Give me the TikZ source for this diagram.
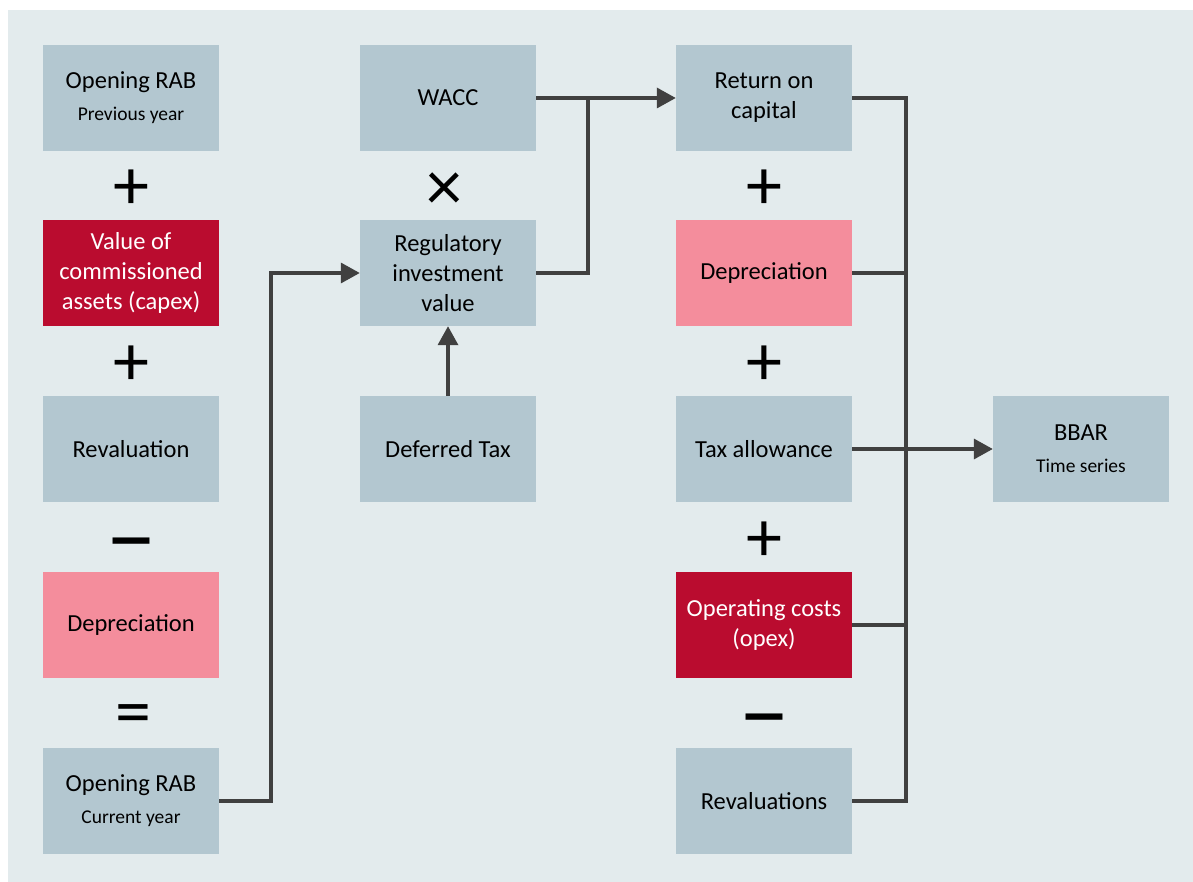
\documentclass[tikz,border=0pt]{standalone}
\usepackage{fontspec}
\setmainfont{Carlito}
\usetikzlibrary{arrows.meta}
\definecolor{bgc}{HTML}{E3EBED}
\definecolor{boxc}{HTML}{B3C7D0}
\definecolor{darkred}{HTML}{BA0C2F}
\definecolor{pinkc}{HTML}{F48D9C}
\definecolor{linec}{HTML}{404040}
\newcommand{\subtxt}[1]{{\fontsize{19.5}{22}\selectfont #1}}
\begin{document}
\begin{tikzpicture}[x=1pt,y=-1pt,
  box/.style={minimum width=176pt, minimum height=106pt, inner sep=0pt, align=center,
    fill=boxc, text=black, font=\fontsize{24.5}{30}\selectfont},
  redbox/.style={box, fill=darkred, text=white},
  pinkbox/.style={box, fill=pinkc, text=black},
  op/.style={inner sep=0pt, font=\fontsize{72}{72}\selectfont},
  minusop/.style={inner sep=0pt, font=\fontsize{72}{72}\bfseries\selectfont, xscale=1.45, yshift=-12pt},
  conn/.style={draw=linec, line width=3.5pt},
  arr/.style={conn, -{Triangle[length=19pt,width=20pt]}}
]
\useasboundingbox (0,0) rectangle (1193,882);
\fill[bgc] (8,10) rectangle (1193,882);

% column 1
\node[box] (orabp) at (131,98) {Opening RAB\\[2pt]\subtxt{Previous year}};
\node[redbox] (capex) at (131,273) {Value of\\commissioned\\assets (capex)};
\node[box] (reval1) at (131,449) {Revaluation};
\node[pinkbox] (dep1) at (131,625) {Depreciation};
\node[box] (orabc) at (131,801) {Opening RAB\\[2pt]\subtxt{Current year}};
\node[op, yshift=-3.5pt] (p1) at (131,186) {+};
\node[op, yshift=-3.5pt] (p2) at (131,362) {+};
\node[minusop] (m1) at (131,538) {–};
\node[op, yshift=-6pt] (e1) at (133,714) {=};

% column 2
\node[box] (wacc) at (448,98) {WACC};
\node[box] (riv) at (448,273) {Regulatory\\investment\\value};
\node[box] (dtax) at (448,449) {Deferred Tax};
\node[op, yshift=-5.5pt] (x1) at (444,186) {×};

% column 3
\node[box] (roc) at (764,98) {Return on\\capital};
\node[pinkbox] (dep2) at (764,273) {Depreciation};
\node[box] (taxa) at (764,449) {Tax allowance};
\node[redbox] (opex) at (764,625) {Operating costs\\(opex)};
\node[box] (reval2) at (764,801) {Revaluations};
\node[op, yshift=-3.5pt] (p3) at (764,186) {+};
\node[op, yshift=-3.5pt] (p4) at (764,362) {+};
\node[op, yshift=-3.5pt] (p5) at (764,538) {+};
\node[minusop] (m2) at (764,714) {–};

% BBAR
\node[box] (bbar) at (1081,449) {BBAR\\[2pt]\subtxt{Time series}};

% connectors
\coordinate (j1) at (588,98);
\coordinate (bt) at (906,98);
\coordinate (bb) at (906,801);
\draw[arr] (orabc.east) -- (271,801) |- (riv.west);
\draw[arr] (wacc.east) -- (roc.west);
\draw[conn] (riv.east) -| (j1);
\draw[arr] (dtax.north) -- (riv.south);
\draw[conn] (roc.east) -- (bt) -- (bb) -- (reval2.east);
\draw[conn] (dep2.east) -- (dep2.east -| bt);
\draw[conn] (opex.east) -- (opex.east -| bt);
\draw[arr] (taxa.east) -- (bbar.west);
\end{tikzpicture}
\end{document}
